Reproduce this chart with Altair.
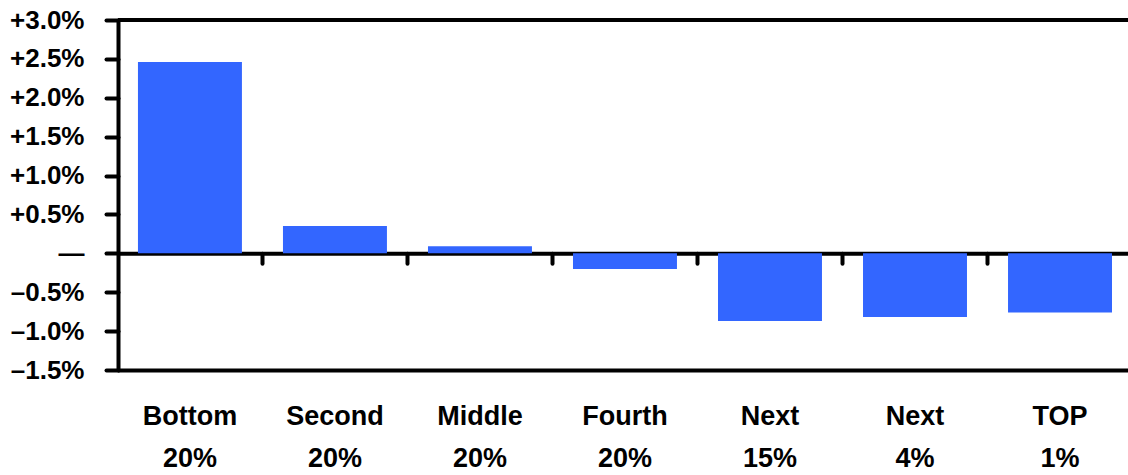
import altair as alt
import pandas as pd

groups = ["Bottom", "Second", "Middle", "Fourth", "Next", "Next", "TOP"]
shares = ["20%", "20%", "20%", "20%", "15%", "4%", "1%"]
values = [2.46, 0.35, 0.09, -0.20, -0.87, -0.82, -0.76]
y_ticks = [-1.5, -1.0, -0.5, 0.0, 0.5, 1.0, 1.5, 2.0, 2.5, 3.0]

cats = [g + "|" + s for g, s in zip(groups, shares)]
df = pd.DataFrame({"cat": cats, "value": values})

x_scale = alt.Scale(paddingInner=0.283, paddingOuter=0.124, align=0.555)
y_scale = alt.Scale(domain=[-1.5, 3.0], nice=False, zero=False)


def make_y_axis():
    return alt.Axis(
        values=y_ticks,
        title=None,
        grid=False,
        domainColor="black", domainWidth=4, domainCap="round",
        tickColor="black", tickWidth=4, tickSize=12, tickCap="round",
        labelFont="Liberation Sans", labelFontWeight="bold", labelFontSize=26,
        labelColor="black", labelPadding=22,
        labelExpr="datum.value > 0.001 ? '+' + format(datum.value, '.1f') + '%' : (datum.value < -0.001 ? '\u2013' + format(-datum.value, '.1f') + '%' : '\u2014\u2002')",
    )


bars = alt.Chart(df).mark_bar(color="#3366ff").encode(
    x=alt.X("cat:N", sort=cats, scale=x_scale,
            axis=alt.Axis(orient="bottom", title=None, ticks=False, grid=False,
                          domainColor="black", domainWidth=4,
                          labelAngle=0, labelFont="Liberation Sans",
                          labelFontWeight="bold", labelFontSize=27,
                          labelColor="black", labelPadding=33,
                          labelLineHeight=42, labelBaseline="top",
                          labelExpr="split(datum.label, '|')")),
    y=alt.Y("value:Q", scale=y_scale, axis=make_y_axis()),
)

zero_axis = alt.Chart(df).mark_bar(opacity=0).encode(
    x=alt.X("cat:N", sort=cats, scale=x_scale,
            axis=alt.Axis(orient="bottom", offset=-116.67, title=None, labels=False,
                          grid=False, domainColor="black", domainWidth=4,
                          ticks=True, bandPosition=1.197, tickSize=10, tickWidth=4,
                          tickCap="round", tickColor="black")),
    y=alt.Y("value:Q", scale=y_scale, axis=make_y_axis()),
)

top_line = alt.Chart(df).mark_rule(color="black", strokeWidth=4).encode(
    y=alt.Y(datum=3.0, scale=y_scale, axis=make_y_axis()),
)

chart = alt.layer(bars, zero_axis, top_line).resolve_axis(x="independent").properties(
    width=1010, height=350,
    autosize=alt.AutoSizeParams(type="none"),
    padding={"left": 118, "top": 20, "right": 0, "bottom": 105},
).configure_view(stroke=None)

chart.save("out.html", embed_options={"renderer": "svg", "actions": False})
